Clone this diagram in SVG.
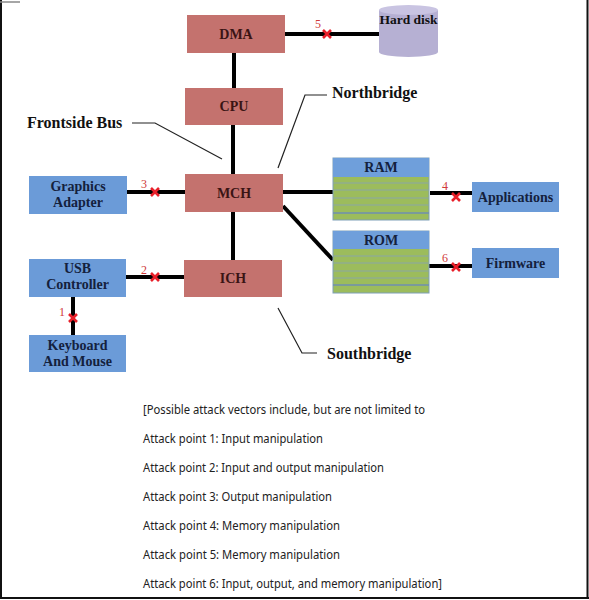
<svg xmlns="http://www.w3.org/2000/svg" width="589" height="600" viewBox="0 0 589 600">
<style>
.red{fill:#c4726e}
.blue{fill:#6b9bd8}
.lbl{font-family:"Liberation Serif","Times New Roman",serif;font-weight:bold;font-size:14px;text-anchor:middle}
.rt{fill:#3a1414}
.bt{fill:#14213d}
.big{font-family:"Liberation Serif","Times New Roman",serif;font-weight:bold;font-size:16px;fill:#111}
.bus{stroke:#000;stroke-width:4;fill:none}
.lead{stroke:#222;stroke-width:1.2;fill:none}
.x{stroke:#e8202a;stroke-width:2.6;fill:none}
.num{font-family:"Liberation Serif",serif;font-size:12px;fill:#d03a3a}
.note{font-family:"Noto Sans","Open Sans",sans-serif;font-size:12px;fill:#222}
.stripe{stroke:#8aa6a6;stroke-width:1}
</style>
<rect x="0" y="0" width="589" height="600" fill="#fff"/>
<g id="frame">
<line x1="1" y1="0" x2="1" y2="598" stroke="#111" stroke-width="2"/>
<line x1="0" y1="598" x2="589" y2="598" stroke="#111" stroke-width="2"/>
<line x1="587.5" y1="0" x2="587.5" y2="598" stroke="#111" stroke-width="2"/>
<line x1="0" y1="2" x2="20" y2="2" stroke="#888" stroke-width="1.5"/>
</g>
<g id="connectors">
<line class="bus" x1="285" y1="34" x2="381" y2="34"/>
<line class="bus" x1="234" y1="53" x2="234" y2="88"/>
<line class="bus" x1="233" y1="125" x2="233" y2="174"/>
<line class="bus" x1="233" y1="211" x2="233" y2="260"/>
<line class="bus" x1="127" y1="192" x2="185" y2="192"/>
<line class="bus" x1="126" y1="277" x2="184" y2="277"/>
<line class="bus" x1="73" y1="297" x2="73" y2="335"/>
<line class="bus" x1="283" y1="192" x2="333" y2="192"/>
<line class="bus" x1="283" y1="206" x2="333" y2="260"/>
<line class="bus" x1="430" y1="193" x2="472" y2="193"/>
<line class="bus" x1="429" y1="266" x2="472" y2="266"/>
<path class="lead" d="M132,123 H155 L222,159"/>
<path class="lead" d="M327,95 H305 L278,168"/>
<path class="lead" d="M278,308 L302,353 H317"/>
</g>
<g id="attack-points">
<path class="x" d="M323,30 l8,8 M331,30 l-8,8"/><text class="num" x="315" y="28">5</text>
<path class="x" d="M151,188 l8,8 M159,188 l-8,8"/><text class="num" x="141" y="188">3</text>
<path class="x" d="M151,273 l8,8 M159,273 l-8,8"/><text class="num" x="141" y="274">2</text>
<path class="x" d="M69,314 l8,8 M77,314 l-8,8"/><text class="num" x="59" y="316">1</text>
<path class="x" d="M452,193 l8,8 M460,193 l-8,8"/><text class="num" x="442" y="190">4</text>
<path class="x" d="M452,263 l8,8 M460,263 l-8,8"/><text class="num" x="442" y="262">6</text>
</g>
<g id="dma"><rect class="red" x="187" y="15" width="98" height="38"/><text class="lbl rt" x="236" y="39">DMA</text></g>
<g id="harddisk">
<path d="M379,10 V52 A29.5,5 0 0 0 438,52 V10 Z" fill="#b6b0d3"/>
<ellipse cx="408.5" cy="10" rx="29.5" ry="5" fill="#c9c4e2"/>
<text class="lbl" style="font-size:13.5px" fill="#111" x="408.5" y="24">Hard disk</text>
</g>
<g id="cpu"><rect class="red" x="185" y="88" width="98" height="37"/><text class="lbl rt" x="234" y="111">CPU</text></g>
<g id="mch"><rect class="red" x="185" y="174" width="98" height="38"/><text class="lbl rt" x="234" y="198">MCH</text></g>
<g id="ich"><rect class="red" x="184" y="260" width="98" height="37"/><text class="lbl rt" x="233" y="283">ICH</text></g>
<g id="graphics"><rect class="blue" x="29" y="176" width="98" height="38"/><text class="lbl bt" x="78" y="191">Graphics</text><text class="lbl bt" x="78" y="207">Adapter</text></g>
<g id="usb"><rect class="blue" x="29" y="259" width="97" height="38"/><text class="lbl bt" x="77.5" y="273">USB</text><text class="lbl bt" x="77.5" y="289">Controller</text></g>
<g id="keyboard"><rect class="blue" x="29" y="335" width="97" height="37"/><text class="lbl bt" x="77.5" y="350">Keyboard</text><text class="lbl bt" x="77.5" y="366">And Mouse</text></g>
<g id="ram">
<rect x="333" y="158" width="96" height="62" fill="#9cbc5c" stroke="#7f9fb8" stroke-width="1"/>
<rect x="333" y="158" width="96" height="19" fill="#6f9fdb"/>
<line class="stripe" x1="333" y1="183" x2="429" y2="183"/>
<line class="stripe" x1="333" y1="190" x2="429" y2="190"/>
<line class="stripe" x1="333" y1="198" x2="429" y2="198"/>
<line class="stripe" x1="333" y1="205" x2="429" y2="205"/>
<line x1="333" y1="213" x2="429" y2="213" stroke="#6f8fb0" stroke-width="1.5"/>
<text class="lbl bt" x="381" y="172">RAM</text>
</g>
<g id="rom">
<rect x="333" y="231" width="96" height="62" fill="#9cbc5c" stroke="#7f9fb8" stroke-width="1"/>
<rect x="333" y="231" width="96" height="18" fill="#6f9fdb"/>
<line class="stripe" x1="333" y1="256" x2="429" y2="256"/>
<line class="stripe" x1="333" y1="263" x2="429" y2="263"/>
<line class="stripe" x1="333" y1="271" x2="429" y2="271"/>
<line class="stripe" x1="333" y1="278" x2="429" y2="278"/>
<line x1="333" y1="285" x2="429" y2="285" stroke="#6f8fb0" stroke-width="1.5"/>
<text class="lbl bt" x="381" y="245">ROM</text>
</g>
<g id="applications"><rect class="blue" x="472" y="182" width="87" height="30"/><text class="lbl bt" x="515.5" y="202">Applications</text></g>
<g id="firmware"><rect class="blue" x="472" y="248" width="87" height="30"/><text class="lbl bt" x="515.5" y="268">Firmware</text></g>
<g id="labels">
<text class="big" x="27" y="128">Frontside Bus</text>
<text class="big" x="332" y="98">Northbridge</text>
<text class="big" x="327" y="359">Southbridge</text>
</g>
<g id="notes">
<text class="note" x="143" y="414" textLength="282" lengthAdjust="spacingAndGlyphs">[Possible attack vectors include, but are not limited to</text>
<text class="note" x="143" y="443" textLength="180" lengthAdjust="spacingAndGlyphs">Attack point 1: Input manipulation</text>
<text class="note" x="143" y="472" textLength="241" lengthAdjust="spacingAndGlyphs">Attack point 2: Input and output manipulation</text>
<text class="note" x="143" y="501" textLength="189" lengthAdjust="spacingAndGlyphs">Attack point 3: Output manipulation</text>
<text class="note" x="143" y="530" textLength="197" lengthAdjust="spacingAndGlyphs">Attack point 4: Memory manipulation</text>
<text class="note" x="143" y="559" textLength="197" lengthAdjust="spacingAndGlyphs">Attack point 5: Memory manipulation</text>
<text class="note" x="143" y="588" textLength="299" lengthAdjust="spacingAndGlyphs">Attack point 6: Input, output, and memory manipulation]</text>
</g>
</svg>
